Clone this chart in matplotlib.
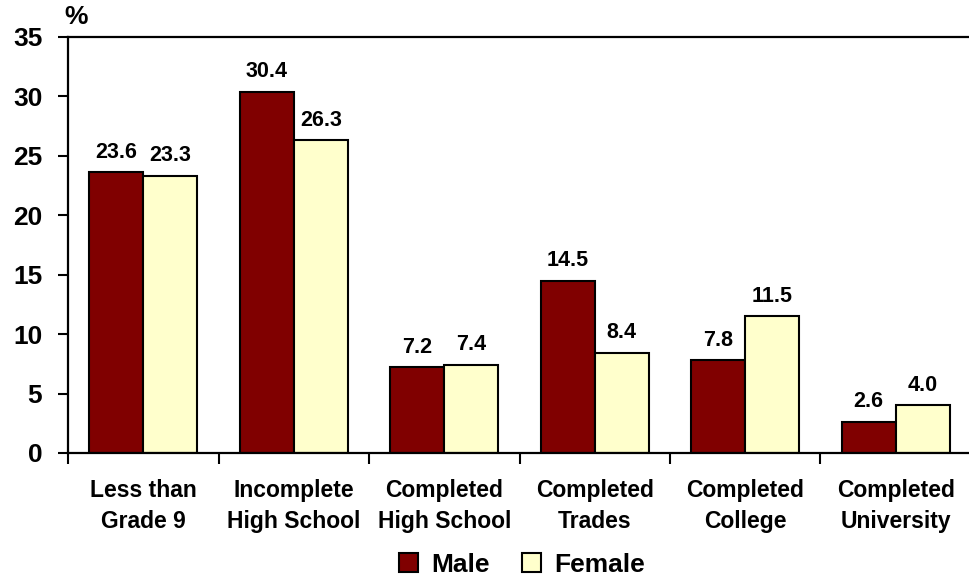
import numpy as np
import matplotlib
matplotlib.use("Agg")
import matplotlib.pyplot as plt

plt.rcParams['font.family'] = ['Liberation Sans', 'DejaVu Sans']
plt.rcParams['font.weight'] = 'bold'

# education level shares by sex (%)
categories = ['Less than\nGrade 9', 'Incomplete\nHigh School', 'Completed\nHigh School',
              'Completed\nTrades', 'Completed\nCollege', 'Completed\nUniversity']
male = [23.6, 30.4, 7.2, 14.5, 7.8, 2.6]
female = [23.3, 26.3, 7.4, 8.4, 11.5, 4.0]

fig = plt.figure(figsize=(9.69, 5.77), dpi=100)
ax = fig.add_axes([68 / 969, 1 - 453 / 577, 903 / 969, 416 / 577])

x = np.arange(len(categories))
w = 0.36
b1 = ax.bar(x - w / 2, male, w, color='#800000', edgecolor='black', linewidth=1.5, label='Male')
b2 = ax.bar(x + w / 2, female, w, color='#FFFFCC', edgecolor='black', linewidth=1.5, label='Female')

# value labels above each bar
for bars, vals in ((b1, male), (b2, female)):
    for rect, v in zip(bars, vals):
        ax.annotate(f'{v:.1f}', (rect.get_x() + rect.get_width() / 2, v),
                    xytext=(0, 7), textcoords='offset points',
                    ha='center', va='bottom', fontsize=15.5, fontweight='bold')

ax.set_xlim(-0.5, 5.5)
ax.set_ylim(0, 35)
ax.set_yticks(range(0, 36, 5))
ax.set_xticks(np.arange(-0.5, 6, 1))
ax.set_xticklabels([])
ax.set_xticks(x, minor=True)
ax.set_xticklabels(categories, minor=True, fontsize=16.5, fontweight='bold', linespacing=1.4)
ax.tick_params(axis='x', which='minor', length=0, pad=19)
ax.tick_params(axis='x', which='major', length=8, width=1.5, direction='out')
ax.tick_params(axis='y', length=7.5, width=1.5, direction='out', labelsize=19, pad=11)

for s in ('left', 'bottom', 'top'):
    ax.spines[s].set_linewidth(1.6)
ax.spines['right'].set_visible(False)

ax.text(-0.004, 1.02, '%', transform=ax.transAxes, fontsize=19, fontweight='bold',
        ha='left', va='bottom')

fig.legend(handles=[b1, b2], loc='center', bbox_to_anchor=(522 / 969, 1 - 565 / 577),
           ncol=2, frameon=False, fontsize=19, handlelength=0.75, handleheight=0.75,
           handletextpad=0.5, columnspacing=1.2)

fig.savefig('out.png', dpi=100)
